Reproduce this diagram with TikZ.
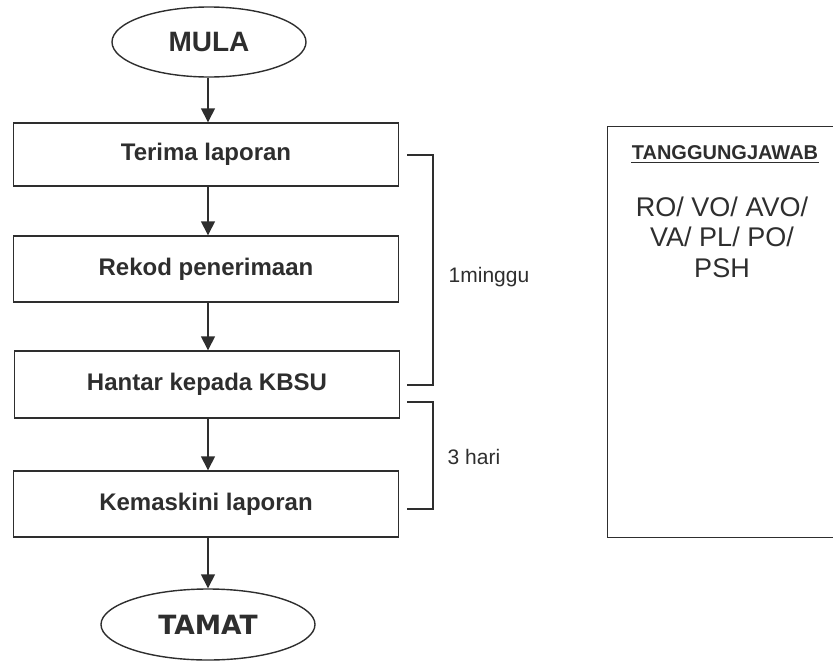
\documentclass[tikz,border=0pt]{standalone}
\usepackage{fontspec}
\setmainfont{Liberation Sans}
\newfontfamily\heavyfont{DejaVu Sans}
\usetikzlibrary{shapes.geometric,arrows.meta}
\definecolor{ink}{HTML}{2E2E2E}
\begin{document}
\begin{tikzpicture}[x=1pt,y=1pt,
  line width=1.4pt, draw=ink, text=ink,
  stepbox/.style={draw, rectangle, minimum width=385pt, minimum height=63pt, inner sep=0pt, font=\fontsize{24}{28}\selectfont\bfseries},
  term/.style={draw, ellipse, inner sep=0pt},
  flow/.style={-{Triangle[length=14pt,width=14pt]}},
  brk/.style={line width=1.4pt}]
\useasboundingbox (0,0) rectangle (833,-662);
\node[term, minimum width=194pt, minimum height=70pt, font=\fontsize{28}{32}\selectfont\bfseries] (mula) at (209,-42) {MULA};
\node[stepbox] (b1) at (206,-154.5) {Terima laporan};
\node[stepbox, minimum height=66pt] (b2) at (206,-269) {Rekod penerimaan};
\node[stepbox, minimum height=67pt] (b3) at (207,-384.5) {Hantar kepada KBSU};
\node[stepbox, minimum height=66pt] (b4) at (206,-504) {Kemaskini laporan};
\node[term, minimum width=214pt, minimum height=71pt, font=\heavyfont\fontsize{26.5}{30}\selectfont\bfseries] (tamat) at (208,-624.5) {TAMAT};
\draw[flow] (mula.south -| 208,0) -- (b1.north -| 208,0);
\draw[flow] (b1.south -| 208,0) -- (b2.north -| 208,0);
\draw[flow] (b2.south -| 208,0) -- (b3.north -| 208,0);
\draw[flow] (b3.south -| 208,0) -- (b4.north -| 208,0);
\draw[flow] (b4.south -| 208,0) -- (tamat.north -| 208,0);
\coordinate (k1a) at (407,-155);
\coordinate (k1b) at (407,-385);
\coordinate (k2a) at (407,-402);
\coordinate (k2b) at (407,-509);
\draw[brk] (k1a) -- ++(26,0) |- (k1b);
\draw[brk] (k2a) -- ++(26,0) |- (k2b);
\node[anchor=west, font=\fontsize{21}{24}\selectfont, inner sep=0pt] (t1) at (448,-277) {1minggu};
\node[anchor=west, font=\fontsize{21}{25}\selectfont, inner sep=0pt] (t2) at (447,-457) {3 hari};
\node[draw, rectangle, minimum width=240pt, minimum height=411pt, anchor=north west, inner sep=0pt] (resp) at (607,-126) {};
\node[font=\fontsize{20}{24}\selectfont\bfseries, inner sep=0pt] (rh) at (725,-153) {TANGGUNGJAWAB};
\draw[line width=1.2pt] (rh.south west) ++(0,-2) -- ([yshift=-2pt]rh.south east);
\node[font=\fontsize{27}{30.5}\selectfont, align=center, anchor=north, inner sep=0pt] (rl) at (722,-196) {RO/ VO/ AVO/\\VA/ PL/ PO/\\PSH};
\end{tikzpicture}
\end{document}
